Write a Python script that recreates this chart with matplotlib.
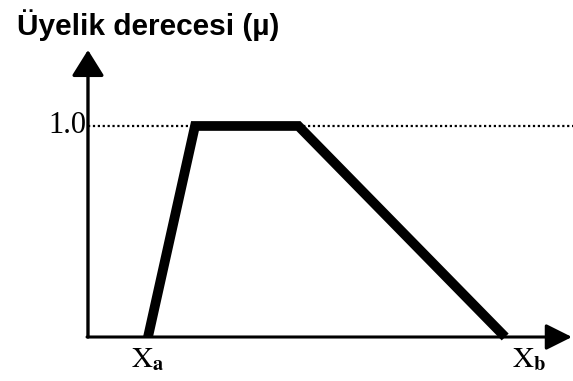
import matplotlib
matplotlib.use('Agg')
import matplotlib.pyplot as plt

plt.rcParams['mathtext.fontset'] = 'stix'

# membership function (trapezoid), x in arbitrary units, Xa at 0
x_points = [0, 1, 3.2, 7.6]
mu_points = [0, 1, 1, 0]
tick_labels = [r'$\mathrm{X}_{\mathbf{a}}$', r'$\mathrm{X}_{\mathbf{b}}$']
tick_pos = [0, 8.1]
title = 'Üyelik derecesi (µ)'
level_label = '1.0'

fig = plt.figure(figsize=(5.73, 3.81), dpi=100)
ax = fig.add_axes([0, 0, 1, 1])
ax.set_xlim(-3.149, 9.043)
ax.set_ylim(-0.2085, 1.597)
ax.axis('off')

y_axis_x = -1.277

# axes with arrow heads
ax.annotate('', xy=(y_axis_x, 1.36), xytext=(y_axis_x, 0),
            arrowprops=dict(arrowstyle='-|>,head_length=1.6,head_width=1.0',
                            lw=2.4, color='black', shrinkA=0, shrinkB=0))
ax.annotate('', xy=(9.02, 0), xytext=(y_axis_x - 0.02, 0),
            arrowprops=dict(arrowstyle='-|>,head_length=1.6,head_width=0.8',
                            lw=2.2, color='black', shrinkA=0, shrinkB=0))

# dotted level line at mu = 1
ax.plot([y_axis_x, 9.1], [1, 1], color='black', lw=1.6,
        linestyle=(0, (1, 1.2)), zorder=1)

ax.plot(x_points, mu_points, color='black', lw=7,
        solid_joinstyle='miter', solid_capstyle='butt', zorder=3)

ax.text(y_axis_x - 0.04, 1, level_label, ha='right', va='center',
        fontsize=22, family='Liberation Serif')
for pos, lab in zip(tick_pos, tick_labels):
    ax.text(pos, -0.04, lab, ha='center', va='top', fontsize=21)

fig.text(17 / 573, 1 - 35 / 381, title, ha='left', va='baseline',
         fontsize=21.5, fontweight='bold', family='Liberation Sans')

fig.savefig('out.png', dpi=100)
